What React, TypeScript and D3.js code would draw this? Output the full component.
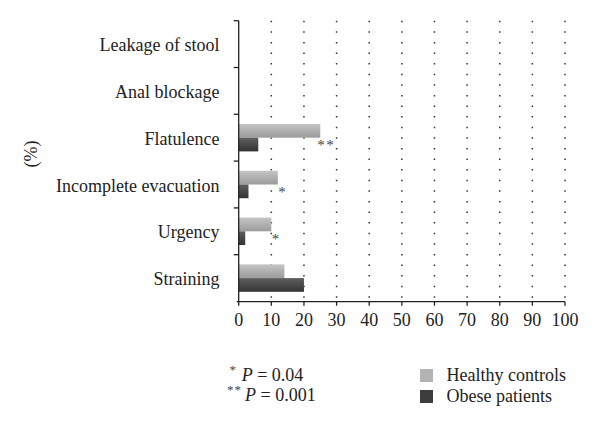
import React from "react";
import * as d3 from "d3";

const categories = [
  "Leakage of stool",
  "Anal blockage",
  "Flatulence",
  "Incomplete evacuation",
  "Urgency",
  "Straining",
];
const healthyControls = [0, 0, 25, 12, 10, 14];
const obesePatients = [0, 0, 6, 3, 2, 20];
const significance = ["", "", "**", "*", "*", ""];
const xTicks = [0, 10, 20, 30, 40, 50, 60, 70, 80, 90, 100];
const seriesNames = ["Healthy controls", "Obese patients"];
const footnotes = [
  { stars: "*", text: "0.04" },
  { stars: "**", text: "0.001" },
];

const W = 600;
const H = 431;
const FONT = "'Liberation Serif', 'Times New Roman', serif";

export default function App() {
  const x = d3.scaleLinear().domain([0, 100]).range([238.7, 565]);
  const y = d3.scaleBand<string>().domain(categories).range([20.7, 301.5]).paddingInner(0).paddingOuter(0);
  const inner = d3
    .scaleBand<string>()
    .domain(["healthy", "obese"])
    .range([0, y.bandwidth()])
    .paddingInner(0)
    .paddingOuter(0.708);
  const axisY = 301.7;
  const top = 20.7;

  const boundaries = categories.map((c) => y(c)!);

  return (
    <div style={{ position: "absolute", left: 0, top: 0 }}>
      <svg width={W} height={H} style={{ display: "block", background: "#fff" }} fontFamily={FONT}>
        <defs>
          <linearGradient id="gH" x1="0" y1="0" x2="0" y2="1">
            <stop offset="0" stopColor="#c4c4c4" />
            <stop offset="1" stopColor="#9c9c9c" />
          </linearGradient>
          <linearGradient id="gO" x1="0" y1="0" x2="0" y2="1">
            <stop offset="0" stopColor="#5e5e5e" />
            <stop offset="1" stopColor="#343434" />
          </linearGradient>
        </defs>

        {/* dotted gridlines */}
        {xTicks.slice(1).map((t) => (
          <line
            key={"g" + t}
            x1={x(t)}
            x2={x(t)}
            y1={top}
            y2={axisY}
            stroke="#333"
            strokeWidth={1.5}
            strokeDasharray="1.5 9.1"
          />
        ))}

        {/* bars */}
        {categories.map((c, i) => (
          <g key={c}>
            {healthyControls[i] > 0 && (
              <rect
                x={x(0)}
                y={y(c)! + inner("healthy")!}
                width={x(healthyControls[i]) - x(0)}
                height={inner.bandwidth()}
                fill="url(#gH)"
              />
            )}
            {obesePatients[i] > 0 && (
              <rect
                x={x(0)}
                y={y(c)! + inner("obese")!}
                width={x(obesePatients[i]) - x(0)}
                height={inner.bandwidth()}
                fill="url(#gO)"
              />
            )}
            {significance[i] && (
              <text
                x={x(healthyControls[i]) + (significance[i].length > 1 ? -3 : 0.5)}
                y={y(c)! + y.bandwidth() / 2 + 12.5}
                fontSize={15}
                letterSpacing={1.5}
                fill="#444"
              >
                {significance[i]}
              </text>
            )}
          </g>
        ))}

        {/* y axis */}
        <line x1={x(0)} x2={x(0)} y1={top} y2={axisY} stroke="#222" strokeWidth={1.3} />
        {boundaries.map((b, i) => (
          <line key={"yt" + i} x1={x(0) - 5} x2={x(0)} y1={b} y2={b} stroke="#222" strokeWidth={1.3} />
        ))}
        {categories.map((c) => (
          <text
            key={"yl" + c}
            x={219.5}
            y={y(c)! + y.bandwidth() / 2 + 7}
            textAnchor="end"
            fontSize={18}
            fill="#222"
          >
            {c}
          </text>
        ))}
        <text
          transform={`translate(37,154) rotate(-90)`}
          textAnchor="middle"
          fontSize={18}
          fill="#222"
        >
          (%)
        </text>

        {/* x axis */}
        <line x1={x(0) - 2} x2={x(100)} y1={axisY} y2={axisY} stroke="#222" strokeWidth={1.3} />
        {xTicks.map((t) => (
          <g key={"xt" + t}>
            <line x1={x(t)} x2={x(t)} y1={axisY} y2={axisY + 4} stroke="#222" strokeWidth={1.3} />
            <text x={x(t)} y={326} textAnchor="middle" fontSize={18} fill="#222">
              {t}
            </text>
          </g>
        ))}

        {/* footnotes */}
        {footnotes.map((f, i) => (
          <g key={"fn" + i}>
            <text x={i === 0 ? 237 : 242} y={374 + i * 20} fontSize={13} textAnchor="end" letterSpacing={1} fill="#444">
              {f.stars}
            </text>
            <text x={i === 0 ? 241.7 : 245} y={381 + i * 20} fontSize={18} fill="#222">
              <tspan fontStyle="italic">P</tspan>
              <tspan> = {f.text}</tspan>
            </text>
          </g>
        ))}

        {/* legend */}
        {seriesNames.map((s, i) => (
          <g key={"lg" + s}>
            <rect x={420} y={369 + i * 21} width={13} height={13} fill={i === 0 ? "#b3b3b3" : "#3d3d3d"} />
            <text x={446.5} y={381 + i * 20.5} fontSize={18} fill="#222">
              {s}
            </text>
          </g>
        ))}
      </svg>
    </div>
  );
}
